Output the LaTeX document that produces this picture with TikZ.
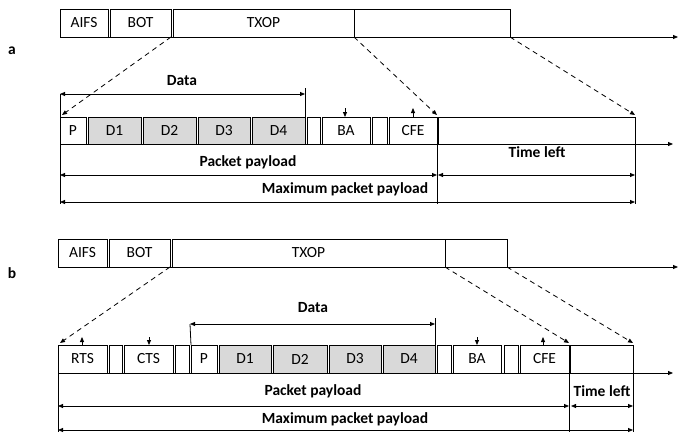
\documentclass[tikz,border=0pt]{standalone}
\usepackage{fontspec}
\setmainfont{Carlito}
\usetikzlibrary{arrows.meta}
\definecolor{dgray}{HTML}{D9D9D9}
\newcommand\bx[7]{\node[#2, anchor=north west, minimum width={#4pt-#3pt}, minimum height={#6pt-#5pt}] (#1) at (#3,#5) {#7};}
\begin{document}
\begin{tikzpicture}[x=1pt,y=-1pt,
  box/.style={draw, line width=0.8pt, inner sep=0pt, outer sep=0pt, font=\fontsize{15.5}{16}\selectfont},
  dbox/.style={box, fill=dgray},
  lbl/.style={font=\bfseries\fontsize{15.5}{16}\selectfont, inner sep=0pt},
  tip/.style={-{Triangle[length=5pt,width=4pt]}, line width=0.8pt},
  dtip/.style={{Triangle[length=5pt,width=4pt]}-{Triangle[length=5pt,width=4pt]}, line width=0.8pt},
  dsh/.style={-{Triangle[length=5pt,width=4pt]}, line width=0.8pt, dash pattern=on 5pt off 4pt},
  vl/.style={line width=0.8pt}]
\useasboundingbox (0,0) rectangle (683,432);
% ---------- part a ----------
\node[lbl] (la) at (12,51) {a};
\bx{aifsA}{box}{60}{108}{9}{37}{AIFS}
\bx{botA}{box}{110}{171}{9}{37}{BOT}
\bx{txopA}{box}{173}{354}{9}{37}{TXOP}
\bx{restA}{box}{354}{510}{9}{37}{}
\coordinate (axA) at (678,37);
\draw[tip] (aifsA.south west) -- (axA);
\bx{pA}{box}{60}{86}{117}{144}{P}
\bx{d1A}{dbox}{88}{141}{117}{144}{D1}
\bx{d2A}{dbox}{143}{196}{117}{144}{D2}
\bx{d3A}{dbox}{198}{250}{117}{144}{D3}
\bx{d4A}{dbox}{252}{305}{117}{144}{D4}
\bx{g1A}{box}{307}{320}{117}{144}{}
\bx{baA}{box}{322}{370}{117}{144}{BA}
\bx{g2A}{box}{372}{387}{117}{144}{}
\bx{cfeA}{box}{389}{437}{117}{144}{CFE}
\bx{tlA}{box}{438}{635}{117}{144}{}
\coordinate (fxA) at (673,144);
\draw[tip] (pA.south west) -- (fxA);
% dashed
\draw[dsh] (botA.south east) -- ([shift={(2pt,2pt)}]pA.north west);
\draw[dsh] (txopA.south east) -- ([yshift=2pt]cfeA.north east);
\draw[dsh] (restA.south east) -- ([yshift=2pt]tlA.north east);
% small arrows
\coordinate (baAt) at (345,108);
\draw[tip] (baAt) -- (baAt |- baA.north);
\coordinate (cfeAt) at (413,108);
\draw[tip] (cfeAt |- cfeA.north) -- (cfeAt);
% data
\node[lbl] (dataA) at (182,81) {Data};
\coordinate (daL) at (60,94);
\coordinate (daR) at (305,94);
\coordinate (daRt) at (305,88);
\draw[dtip] (daL) -- (daR);
\draw[vl] (daRt) -- (d4A.north east);
% payload
\coordinate (vaL) at (60,204);
\coordinate (vaM) at (437,204);
\coordinate (vaR) at (635,204);
\draw[vl] (daL) -- (vaL);
\draw[vl] (cfeA.south east) -- (vaM);
\draw[vl] (tlA.south east) -- (vaR);
\node[lbl] (ppA) at (248,162) {Packet payload};
\node[lbl] (tlAl) at (537,152) {Time left};
\node[lbl] (mpA) at (345,189) {Maximum packet payload};
\coordinate (ppAL) at (60,175);
\coordinate (ppAR) at (437,175);
\coordinate (tlAL) at (438,175);
\coordinate (tlAR) at (635,175);
\coordinate (mpAL) at (60,202);
\coordinate (mpAR) at (635,202);
\draw[dtip] (ppAL) -- (ppAR);
\draw[dtip] (tlAL) -- (tlAR);
\draw[dtip] (mpAL) -- (mpAR);
% ---------- part b ----------
\node[lbl] (lb) at (12,273) {b};
\bx{aifsB}{box}{58}{107}{239}{267}{AIFS}
\bx{botB}{box}{109}{170}{239}{267}{BOT}
\bx{txopB}{box}{172}{445}{239}{267}{TXOP}
\bx{restB}{box}{445}{507}{239}{267}{}
\coordinate (axB) at (678,267);
\draw[tip] (aifsB.south west) -- (axB);
\bx{rtsB}{box}{58}{107}{345}{373}{RTS}
\bx{g1B}{box}{109}{122}{345}{373}{}
\bx{ctsB}{box}{124}{173}{345}{373}{CTS}
\bx{g2B}{box}{175}{189}{345}{373}{}
\bx{pB}{box}{191}{217}{345}{373}{P}
\bx{d1B}{dbox}{219}{271}{345}{373}{D1}
\bx{d2B}{dbox}{273}{327}{345}{373}{D2}
\bx{d3B}{dbox}{329}{381}{345}{373}{D3}
\bx{d4B}{dbox}{383}{435}{345}{373}{D4}
\bx{g3B}{box}{437}{451}{345}{373}{}
\bx{baB}{box}{453}{501}{345}{373}{BA}
\bx{g4B}{box}{504}{518}{345}{373}{}
\bx{cfeB}{box}{520}{569}{345}{373}{CFE}
\bx{tlB}{box}{570}{633}{345}{373}{}
\coordinate (fxB) at (673,373);
\draw[tip] (rtsB.south west) -- (fxB);
% dashed
\draw[dsh] (botB.south east) -- ([shift={(2pt,2pt)}]rtsB.north west);
\draw[dsh] (txopB.south east) -- ([yshift=2pt]cfeB.north east);
\draw[dsh] (restB.south east) -- ([yshift=2pt]tlB.north east);
% small arrows
\coordinate (rtsBt) at (82,337);
\draw[tip] (rtsBt |- rtsB.north) -- (rtsBt);
\coordinate (ctsBt) at (149,337);
\draw[tip] (ctsBt) -- (ctsBt |- ctsB.north);
\coordinate (baBt) at (477,337);
\draw[tip] (baBt) -- (baBt |- baB.north);
\coordinate (cfeBt) at (543,337);
\draw[tip] (cfeBt |- cfeB.north) -- (cfeBt);
% data
\node[lbl] (dataB) at (313,308) {Data};
\coordinate (dbL) at (190,324);
\coordinate (dbR) at (435,324);
\coordinate (dbRt) at (435,318);
\draw[dtip] (dbL) -- (dbR);
\draw[vl] (dbL) -- (pB.north west);
\draw[vl] (dbRt) -- (d4B.north east);
% payload
\coordinate (vbL) at (58,432);
\coordinate (vbM) at (569,432);
\coordinate (vbR) at (633,432);
\draw[vl] (rtsB.south west) -- (vbL);
\draw[vl] (cfeB.south east) -- (vbM);
\draw[vl] (tlB.south east) -- (vbR);
\node[lbl] (ppB) at (313,391) {Packet payload};
\node[lbl] (tlBl) at (602,391) {Time left};
\node[lbl] (mpB) at (345,419) {Maximum packet payload};
\coordinate (ppBL) at (58,406);
\coordinate (ppBR) at (569,406);
\coordinate (tlBL) at (571,406);
\coordinate (tlBR) at (633,406);
\coordinate (mpBL) at (58,430);
\coordinate (mpBR) at (633,430);
\draw[dtip] (ppBL) -- (ppBR);
\draw[dtip] (tlBL) -- (tlBR);
\draw[dtip] (mpBL) -- (mpBR);
\end{tikzpicture}
\end{document}
